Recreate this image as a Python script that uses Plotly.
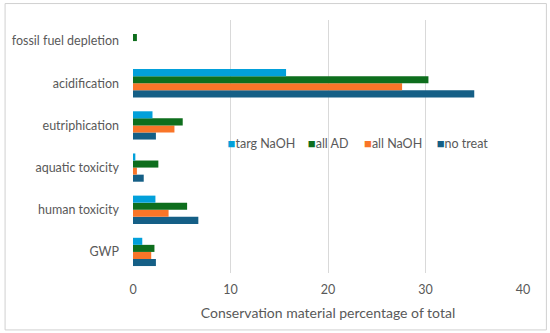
import plotly.graph_objects as go

categories = ["fossil fuel depletion", "acidification", "eutriphication",
              "aquatic toxicity", "human toxicity", "GWP"]
targ_naoh = [0, 15.7, 2.0, 0.24, 2.3, 0.95]
all_ad = [0.4, 30.3, 5.1, 2.6, 5.55, 2.2]
all_naoh = [0, 27.6, 4.25, 0.4, 3.65, 1.87]
no_treat = [0, 35.0, 2.35, 1.1, 6.7, 2.35]
x_ticks = [0, 10, 20, 30, 40]

# name, values, colour, legend id, legend x (paper)
series = [
    ("no treat", no_treat, "#155F86", "legend4", 0.676),
    ("all NaOH", all_naoh, "#F97528", "legend3", 0.4898),
    ("all AD", all_ad, "#0E6E1D", "legend2", 0.3457),
    ("targ NaOH", targ_naoh, "#02A0DA", "legend", 0.140),
]

fig = go.Figure()
for name, vals, color, leg, lx in series:
    fig.add_trace(go.Bar(
        y=categories, x=vals, name=name, orientation="h",
        marker=dict(color=color, line=dict(width=0)), showlegend=False,
    ))
# legend entries: coloured square glyph + label, one small legend each
legend_layouts = {}
for name, vals, color, leg, lx in series:
    fig.add_trace(go.Scatter(
        x=[None], y=[None], mode="markers",
        name=f"<span style='color:{color};font-size:13px'>■</span>{name}",
        marker=dict(symbol="square", size=1, color="rgba(0,0,0,0)"),
        legend=leg, showlegend=True, hoverinfo="skip",
    ))
    legend_layouts[leg] = dict(
        orientation="h", x=lx, y=0.51, xanchor="left", yanchor="middle",
        bgcolor="rgba(0,0,0,0)", font=dict(size=12.5, color="#595959"),
        itemwidth=30,
    )

font_family = "Lato, 'Noto Sans', sans-serif"
fig.update_layout(
    width=550, height=333,
    margin=dict(l=131, r=27, t=20, b=60),
    barmode="group", bargap=0.33, bargroupgap=0,
    plot_bgcolor="white", paper_bgcolor="white",
    font=dict(family=font_family, size=12.5, color="#595959"),
    xaxis=dict(range=[0, 40], tickvals=x_ticks, showgrid=True, gridcolor="#d9d9d9",
               gridwidth=1, zeroline=False, showline=False, ticks="",
               ticklabelstandoff=7,
               title=dict(text="Conservation material percentage of total",
                          font=dict(size=14, color="#595959"), standoff=12),
               tickfont=dict(size=12.5, color="#595959")),
    yaxis=dict(categoryorder="array", categoryarray=categories[::-1],
               showgrid=False, zeroline=False, showline=False, ticks="",
               ticklabelstandoff=13, tickfont=dict(size=12.5, color="#595959")),
    shapes=[dict(type="rect", xref="paper", yref="paper",
                 x0=-0.328, x1=1.060, y0=-0.225, y1=1.065,
                 line=dict(color="#d0d0d0", width=1), fillcolor="rgba(0,0,0,0)",
                 layer="above")],
    showlegend=True,
    **legend_layouts,
)

fig.write_html("out.html", config={"displayModeBar": False},
               post_script="document.body.style.margin='0px';")
